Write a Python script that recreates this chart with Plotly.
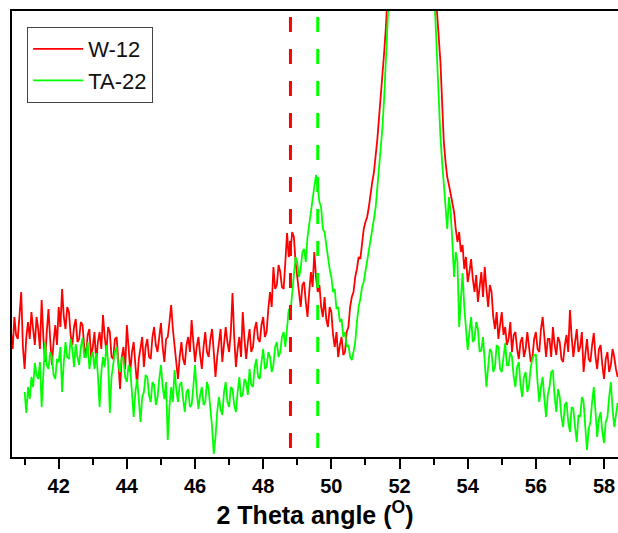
import numpy as np
import plotly.graph_objects as go

# 2-theta grid: 40.60 .. 58.40 deg, step 0.05
theta_start = 40.6
theta_step = 0.05

# W-12 intensity (a.u.), 10 points per row (0.5 deg per row)
w12 = [125, 108, 140, 122, 118, 140, 165, 110, 88, 120,
       135, 118, 145, 128, 112, 140, 128, 108, 157, 120,
       95, 125, 148, 118, 92, 115, 132, 112, 150, 130,
       168, 140, 128, 150, 145, 122, 112, 130, 138, 115,
       118, 135, 132, 110, 100, 122, 128, 100, 110, 125,
       95, 115, 125, 108, 142, 120, 105, 130, 125, 100,
       98, 118, 120, 95, 68, 100, 110, 88, 132, 110,
       85, 105, 115, 92, 72, 98, 108, 120, 90, 110,
       118, 100, 98, 120, 130, 112, 105, 122, 134, 110,
       95, 118, 120, 135, 152, 128, 110, 95, 78, 100,
       115, 98, 92, 112, 120, 105, 137, 115, 95, 110,
       120, 102, 88, 110, 125, 105, 100, 118, 128, 105,
       80, 100, 115, 128, 95, 112, 130, 115, 105, 125,
       164, 120, 90, 108, 120, 100, 145, 118, 98, 115,
       128, 105, 110, 128, 135, 118, 115, 132, 140, 120,
       125, 148, 165, 150, 190, 168, 172, 192, 185, 170,
       168, 195, 224, 200, 205, 225, 220, 195, 178, 160,
       150, 172, 175, 155, 140, 165, 185, 170, 205, 180,
       165, 172, 150, 140, 160, 138, 130, 150, 145, 122,
       110, 125, 100, 112, 120, 102, 105, 125, 130, 150,
       160, 165, 180, 188, 200, 198, 215, 228, 235, 240,
       250, 265, 275, 285, 300, 318, 340, 360, 380, 405,
       430, 465, 500, 550, 600, 650, 700, 750, 800, 830,
       850, 865, 880, 890, 900, 905, 900, 890, 880, 865,
       850, 815, 780, 730, 680, 630, 580, 540, 500, 470,
       440, 420, 395, 345, 315, 295, 280, 272, 262, 255,
       245, 228, 215, 225, 205, 212, 188, 200, 175, 185,
       198, 178, 165, 182, 155, 170, 185, 160, 190, 168,
       150, 172, 165, 140, 128, 145, 118, 132, 145, 122,
       130, 112, 118, 135, 105, 122, 125, 108, 98, 115,
       120, 100, 108, 125, 112, 95, 100, 118, 125, 108,
       105, 128, 140, 115, 100, 118, 118, 100, 130, 112,
       102, 120, 115, 98, 95, 112, 122, 105, 147, 120,
       100, 115, 128, 105, 110, 125, 85, 102, 118, 98,
       95, 112, 124, 100, 88, 108, 112, 92, 78, 98,
       105, 85, 92, 108, 100, 88, 80]

# TA-22 intensity (a.u.), same grid (no data below 41.0 deg)
ta22 = [None, None, None, None, None, None, None, None, 65, 44,
        70, 58, 80, 70, 94, 82, 78, 95, 50, 85,
        115, 92, 88, 105, 100, 82, 78, 98, 95, 110,
        65, 95, 115, 100, 98, 118, 108, 90, 113, 100,
        92, 110, 119, 100, 100, 115, 88, 100, 105, 88,
        104, 82, 50, 85, 100, 90, 112, 95, 44, 80,
        95, 105, 110, 92, 85, 100, 98, 80, 75, 92,
        88, 60, 40, 65, 78, 58, 35, 60, 65, 82,
        80, 62, 55, 75, 72, 52, 60, 78, 92, 70,
        58, 75, 17, 50, 70, 55, 87, 68, 55, 72,
        75, 58, 45, 65, 68, 50, 52, 70, 92, 65,
        48, 62, 70, 52, 55, 75, 68, 48, 30, 3,
        20, 45, 60, 48, 42, 65, 75, 55, 50, 70,
        68, 52, 45, 65, 80, 60, 62, 78, 75, 62,
        88, 72, 70, 90, 98, 80, 78, 95, 108, 88,
        90, 105, 100, 85, 92, 110, 115, 100, 105, 120,
        125, 110, 130, 148, 145, 165, 178, 200, 195, 180,
        188, 205, 208, 195, 220, 235, 245, 258, 268, 282,
        270, 255, 250, 228, 225, 210, 200, 188, 180, 165,
        168, 148, 150, 135, 138, 120, 125, 110, 112, 100,
        97, 105, 115, 135, 150, 158, 170, 175, 185, 198,
        205, 215, 225, 238, 250, 268, 290, 310, 330, 360,
        390, 425, 460, 510, 560, 620, 680, 730, 780, 810,
        840, 860, 880, 890, 900, 905, 900, 885, 870, 845,
        820, 780, 740, 690, 640, 595, 550, 510, 470, 440,
        400, 350, 320, 295, 270, 250, 228, 260, 245, 215,
        180, 205, 195, 130, 160, 184, 150, 128, 107, 125,
        140, 115, 118, 135, 128, 105, 107, 120, 95, 70,
        90, 108, 105, 85, 90, 112, 110, 88, 85, 100,
        114, 92, 92, 105, 100, 80, 70, 90, 95, 72,
        60, 80, 85, 65, 72, 90, 98, 102, 102, 75,
        55, 70, 80, 58, 40, 62, 70, 85, 87, 60,
        45, 68, 60, 40, 30, 52, 55, 35, 25, 50,
        48, 30, 15, 42, 40, 60, 55, 30, 7, 28,
        35, 55, 70, 45, 20, 38, 45, 25, 14, 35,
        40, 60, 75, 48, 30, 42, 54]

# marked peak positions (dashed lines)
peak_w12 = 48.8
peak_ta22 = 49.6

x_range = [40.63, 58.41]
y_range = [0, 446]

theta = np.round(theta_start + theta_step * np.arange(len(w12)), 2)

fig = go.Figure()
fig.add_trace(go.Scatter(x=theta, y=w12, mode="lines", name="W-12",
                         line=dict(color="#ff0000", width=1.8)))
fig.add_trace(go.Scatter(x=theta[:len(ta22)], y=ta22, mode="lines", name="TA-22",
                         line=dict(color="#00ff00", width=1.8)))

for pos, col in [(peak_w12, "#ff0000"), (peak_ta22, "#00ff00")]:
    fig.add_shape(type="line", xref="x", yref="y domain",
                  x0=pos, x1=pos, y0=0.02, y1=0.995,
                  line=dict(color=col, width=3, dash="15px,17px"))

fig.update_layout(
    width=618, height=533,
    margin=dict(l=12, r=0, t=11, b=76),
    plot_bgcolor="white", paper_bgcolor="white",
    showlegend=True,
    legend=dict(x=0.025, y=0.964, xanchor="left", yanchor="top",
                bgcolor="white", bordercolor="#444", borderwidth=1,
                font=dict(family="Liberation Sans, Arial", size=22, color="#111"),
                tracegroupgap=0, itemwidth=50),
    font=dict(family="Liberation Sans, Arial", color="black"),
)
fig.update_xaxes(
    range=x_range, showgrid=False, zeroline=False,
    showline=True, linecolor="black", linewidth=2, mirror=True,
    ticks="outside", ticklen=10, tickwidth=2, tickcolor="black",
    tick0=42, dtick=2,
    minor=dict(ticks="outside", ticklen=6, tickwidth=2, tickcolor="black", dtick=1, tick0=41),
    tickfont=dict(family="Liberation Sans, Arial", size=20, color="black", weight="bold"),
    title=dict(text="2 Theta angle (<sup>O</sup>)",
               font=dict(family="Liberation Sans, Arial", size=25, color="black", weight="bold"),
               standoff=8),
)
fig.update_yaxes(
    range=y_range, showgrid=False, zeroline=False,
    showline=True, linecolor="black", linewidth=2, mirror=False,
    showticklabels=False, ticks="",
)

fig.write_html("out.html")
